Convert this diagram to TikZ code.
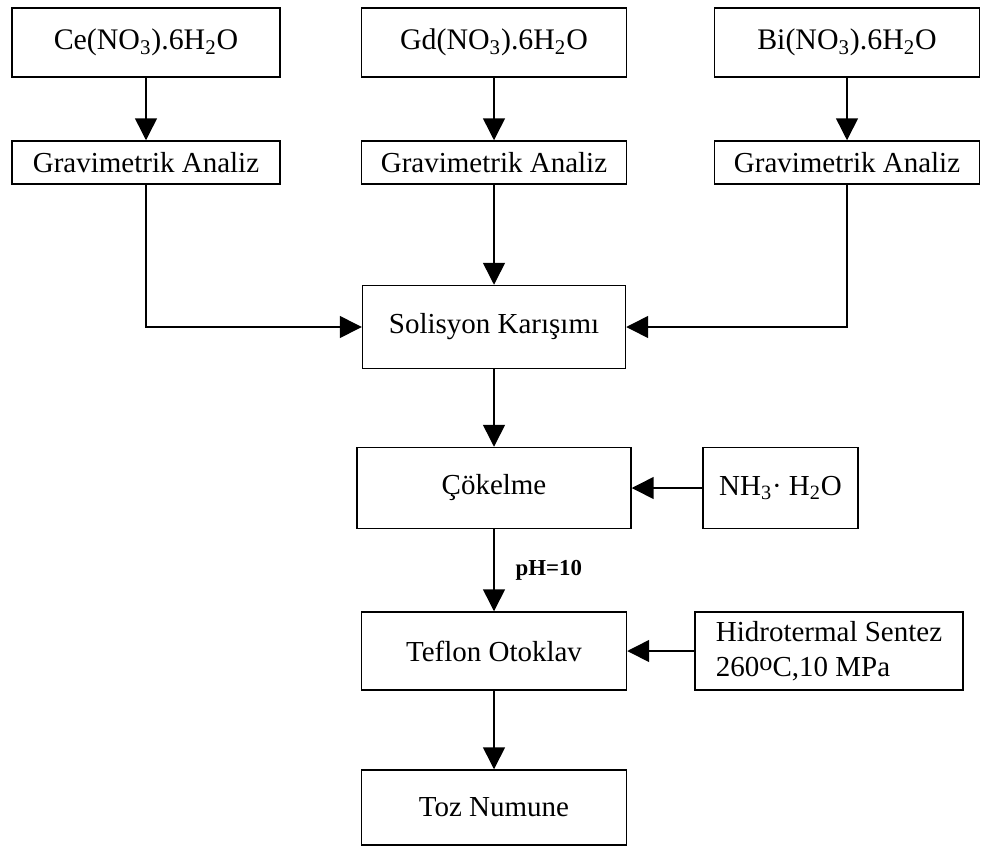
\documentclass[tikz,border=0pt]{standalone}
\usepackage{fontspec}
\setmainfont{Liberation Serif}
\usetikzlibrary{arrows.meta, positioning}

\begin{document}
\begin{tikzpicture}[x=0.02cm, y=-0.02cm, >={Triangle[length=0.44cm, width=0.44cm]},
    line width=0.85pt,
    kutu/.style={draw, rectangle, inner sep=0pt, font=\fontsize{16.5}{20}\selectfont},
    formul/.style={kutu, minimum height=1.38cm, font=\fontsize{17}{20}\selectfont},
    analiz/.style={kutu, minimum height=0.86cm}]

        \useasboundingbox (0,0) rectangle (982,855);

        \node[formul, minimum width=5.36cm] (Ce) at (146,42.5) {Ce(NO\textsubscript{3}).6H\textsubscript{2}O};
        \node[formul, minimum width=5.3cm] (Gd) at (494,42.5) {Gd(NO\textsubscript{3}).6H\textsubscript{2}O};
        \node[formul, minimum width=5.3cm] (Bi) at (847,42.5) {Bi(NO\textsubscript{3}).6H\textsubscript{2}O};

        \node[analiz, minimum width=5.36cm] (GA1) at (146,162.5) {Gravimetrik Analiz};
        \node[analiz, minimum width=5.3cm] (GA2) at (494,162.5) {Gravimetrik Analiz};
        \node[analiz, minimum width=5.3cm] (GA3) at (847,162.5) {Gravimetrik Analiz};

        \node[kutu, minimum width=5.26cm, minimum height=1.66cm] (Sol) at (494,327) {Solisyon Karışımı};
        \node[kutu, minimum width=5.48cm, minimum height=1.62cm] (Cok) at (494,488) {Çökelme};
        \node[kutu, minimum width=3.1cm, minimum height=1.62cm] (NH) at (780.5,488) {NH\textsubscript{3}· H\textsubscript{2}O};
        \node[kutu, minimum width=5.3cm, minimum height=1.56cm] (Tef) at (494,651) {Teflon Otoklav};
        \node[kutu, minimum width=5.36cm, minimum height=1.56cm, align=left] (Hid) at (829,651)
            {Hidrotermal Sentez\\260\raisebox{0.22em}{\fontsize{15}{15}\selectfont o}C,10 MPa};
        \node[kutu, minimum width=5.3cm, minimum height=1.5cm] (Toz) at (494,807.5) {Toz Numune};

        \draw[->] (Ce) -- (GA1);
        \draw[->] (Gd) -- (GA2);
        \draw[->] (Bi) -- (GA3);
        \draw[->] (GA1) |- (Sol);
        \draw[->] (GA2) -- (Sol);
        \draw[->] (GA3) |- (Sol);
        \draw[->] (Sol) -- (Cok);
        \draw[->] (NH) -- (Cok);
        \draw[->] (Cok) -- (Tef) node[midway, right, xshift=0.3cm, font=\fontsize{13}{15}\selectfont\bfseries] {pH=10};
        \draw[->] (Hid) -- (Tef);
        \draw[->] (Tef) -- (Toz);
    \end{tikzpicture}
\end{document}
